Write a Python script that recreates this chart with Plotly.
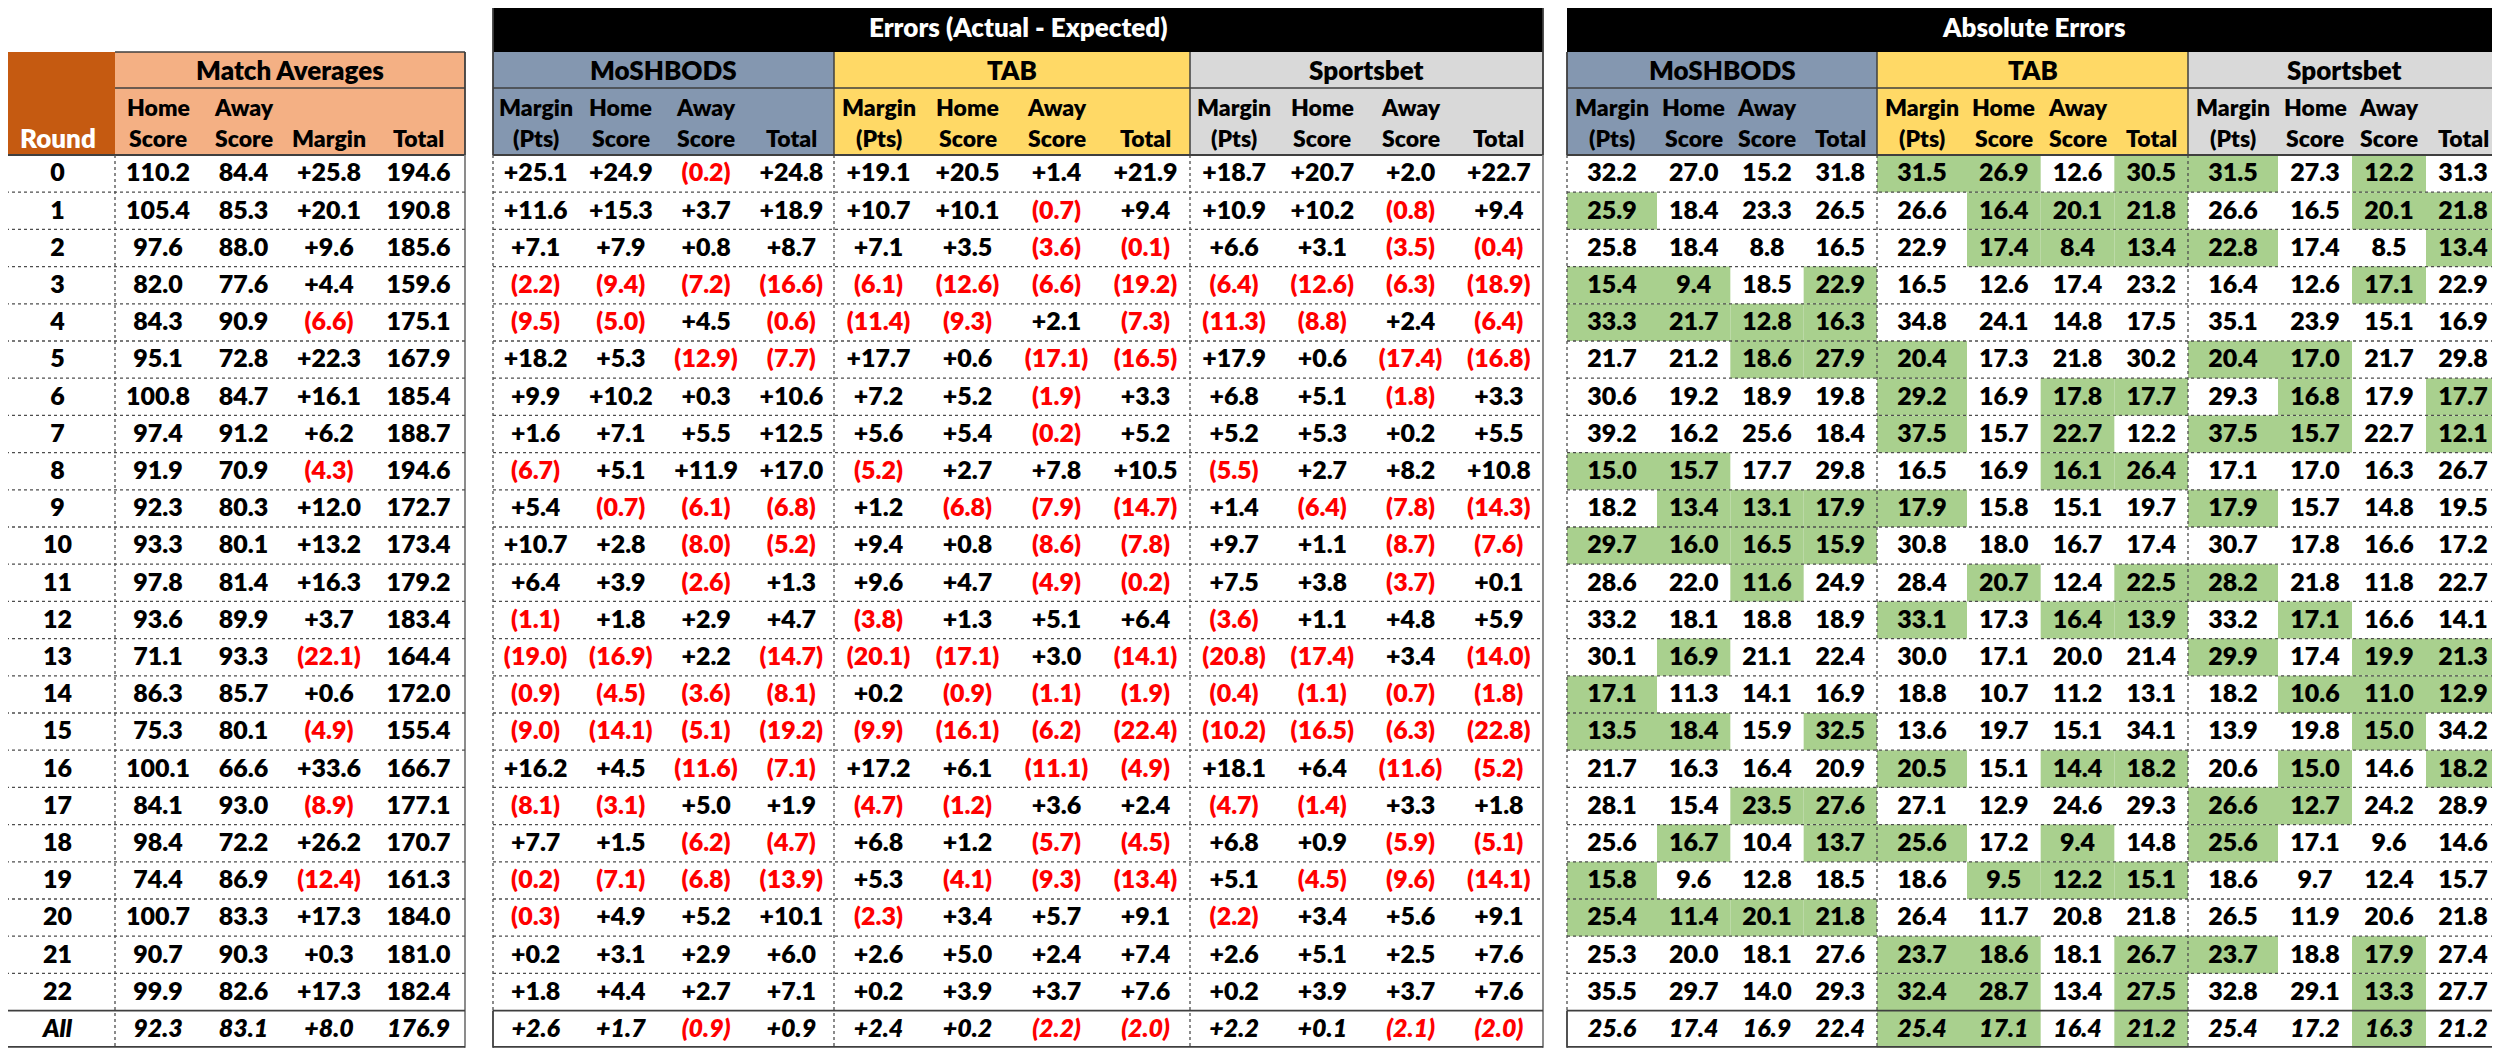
import plotly.graph_objects as go

# ---------------- data ----------------
rounds = [str(i) for i in range(23)] + ["All"]

home_avg = [110.2, 105.4, 97.6, 82.0, 84.3, 95.1, 100.8, 97.4, 91.9, 92.3, 93.3, 97.8, 93.6, 71.1, 86.3, 75.3,
            100.1, 84.1, 98.4, 74.4, 100.7, 90.7, 99.9, 92.3]
away_avg = [84.4, 85.3, 88.0, 77.6, 90.9, 72.8, 84.7, 91.2, 70.9, 80.3, 80.1, 81.4, 89.9, 93.3, 85.7, 80.1,
            66.6, 93.0, 72.2, 86.9, 83.3, 90.3, 82.6, 83.1]
margin_avg = [25.8, 20.1, 9.6, 4.4, -6.6, 22.3, 16.1, 6.2, -4.3, 12.0, 13.2, 16.3, 3.7, -22.1, 0.6, -4.9,
              33.6, -8.9, 26.2, -12.4, 17.3, 0.3, 17.3, 8.0]
total_avg = [194.6, 190.8, 185.6, 159.6, 175.1, 167.9, 185.4, 188.7, 194.6, 172.7, 173.4, 179.2, 183.4, 164.4,
             172.0, 155.4, 166.7, 177.1, 170.7, 161.3, 184.0, 181.0, 182.4, 176.9]

# errors (actual - expected)
mosh_err_margin = [25.1, 11.6, 7.1, -2.2, -9.5, 18.2, 9.9, 1.6, -6.7, 5.4, 10.7, 6.4, -1.1, -19.0, -0.9, -9.0,
                   16.2, -8.1, 7.7, -0.2, -0.3, 0.2, 1.8, 2.6]
mosh_err_home = [24.9, 15.3, 7.9, -9.4, -5.0, 5.3, 10.2, 7.1, 5.1, -0.7, 2.8, 3.9, 1.8, -16.9, -4.5, -14.1,
                 4.5, -3.1, 1.5, -7.1, 4.9, 3.1, 4.4, 1.7]
mosh_err_away = [-0.2, 3.7, 0.8, -7.2, 4.5, -12.9, 0.3, 5.5, 11.9, -6.1, -8.0, -2.6, 2.9, 2.2, -3.6, -5.1,
                 -11.6, 5.0, -6.2, -6.8, 5.2, 2.9, 2.7, -0.9]
mosh_err_total = [24.8, 18.9, 8.7, -16.6, -0.6, -7.7, 10.6, 12.5, 17.0, -6.8, -5.2, 1.3, 4.7, -14.7, -8.1, -19.2,
                  -7.1, 1.9, -4.7, -13.9, 10.1, 6.0, 7.1, 0.9]

tab_err_margin = [19.1, 10.7, 7.1, -6.1, -11.4, 17.7, 7.2, 5.6, -5.2, 1.2, 9.4, 9.6, -3.8, -20.1, 0.2, -9.9,
                  17.2, -4.7, 6.8, 5.3, -2.3, 2.6, 0.2, 2.4]
tab_err_home = [20.5, 10.1, 3.5, -12.6, -9.3, 0.6, 5.2, 5.4, 2.7, -6.8, 0.8, 4.7, 1.3, -17.1, -0.9, -16.1,
                6.1, -1.2, 1.2, -4.1, 3.4, 5.0, 3.9, 0.2]
tab_err_away = [1.4, -0.7, -3.6, -6.6, 2.1, -17.1, -1.9, -0.2, 7.8, -7.9, -8.6, -4.9, 5.1, 3.0, -1.1, -6.2,
                -11.1, 3.6, -5.7, -9.3, 5.7, 2.4, 3.7, -2.2]
tab_err_total = [21.9, 9.4, -0.1, -19.2, -7.3, -16.5, 3.3, 5.2, 10.5, -14.7, -7.8, -0.2, 6.4, -14.1, -1.9, -22.4,
                 -4.9, 2.4, -4.5, -13.4, 9.1, 7.4, 7.6, -2.0]

sb_err_margin = [18.7, 10.9, 6.6, -6.4, -11.3, 17.9, 6.8, 5.2, -5.5, 1.4, 9.7, 7.5, -3.6, -20.8, -0.4, -10.2,
                 18.1, -4.7, 6.8, 5.1, -2.2, 2.6, 0.2, 2.2]
sb_err_home = [20.7, 10.2, 3.1, -12.6, -8.8, 0.6, 5.1, 5.3, 2.7, -6.4, 1.1, 3.8, 1.1, -17.4, -1.1, -16.5,
               6.4, -1.4, 0.9, -4.5, 3.4, 5.1, 3.9, 0.1]
sb_err_away = [2.0, -0.8, -3.5, -6.3, 2.4, -17.4, -1.8, 0.2, 8.2, -7.8, -8.7, -3.7, 4.8, 3.4, -0.7, -6.3,
               -11.6, 3.3, -5.9, -9.6, 5.6, 2.5, 3.7, -2.1]
sb_err_total = [22.7, 9.4, -0.4, -18.9, -6.4, -16.8, 3.3, 5.5, 10.8, -14.3, -7.6, 0.1, 5.9, -14.0, -1.8, -22.8,
                -5.2, 1.8, -5.1, -14.1, 9.1, 7.6, 7.6, -2.0]

# absolute errors
mosh_abs_margin = [32.2, 25.9, 25.8, 15.4, 33.3, 21.7, 30.6, 39.2, 15.0, 18.2, 29.7, 28.6, 33.2, 30.1, 17.1, 13.5,
                   21.7, 28.1, 25.6, 15.8, 25.4, 25.3, 35.5, 25.6]
mosh_abs_home = [27.0, 18.4, 18.4, 9.4, 21.7, 21.2, 19.2, 16.2, 15.7, 13.4, 16.0, 22.0, 18.1, 16.9, 11.3, 18.4,
                 16.3, 15.4, 16.7, 9.6, 11.4, 20.0, 29.7, 17.4]
mosh_abs_away = [15.2, 23.3, 8.8, 18.5, 12.8, 18.6, 18.9, 25.6, 17.7, 13.1, 16.5, 11.6, 18.8, 21.1, 14.1, 15.9,
                 16.4, 23.5, 10.4, 12.8, 20.1, 18.1, 14.0, 16.9]
mosh_abs_total = [31.8, 26.5, 16.5, 22.9, 16.3, 27.9, 19.8, 18.4, 29.8, 17.9, 15.9, 24.9, 18.9, 22.4, 16.9, 32.5,
                  20.9, 27.6, 13.7, 18.5, 21.8, 27.6, 29.3, 22.4]

tab_abs_margin = [31.5, 26.6, 22.9, 16.5, 34.8, 20.4, 29.2, 37.5, 16.5, 17.9, 30.8, 28.4, 33.1, 30.0, 18.8, 13.6,
                  20.5, 27.1, 25.6, 18.6, 26.4, 23.7, 32.4, 25.4]
tab_abs_home = [26.9, 16.4, 17.4, 12.6, 24.1, 17.3, 16.9, 15.7, 16.9, 15.8, 18.0, 20.7, 17.3, 17.1, 10.7, 19.7,
                15.1, 12.9, 17.2, 9.5, 11.7, 18.6, 28.7, 17.1]
tab_abs_away = [12.6, 20.1, 8.4, 17.4, 14.8, 21.8, 17.8, 22.7, 16.1, 15.1, 16.7, 12.4, 16.4, 20.0, 11.2, 15.1,
                14.4, 24.6, 9.4, 12.2, 20.8, 18.1, 13.4, 16.4]
tab_abs_total = [30.5, 21.8, 13.4, 23.2, 17.5, 30.2, 17.7, 12.2, 26.4, 19.7, 17.4, 22.5, 13.9, 21.4, 13.1, 34.1,
                 18.2, 29.3, 14.8, 15.1, 21.8, 26.7, 27.5, 21.2]

sb_abs_margin = [31.5, 26.6, 22.8, 16.4, 35.1, 20.4, 29.3, 37.5, 17.1, 17.9, 30.7, 28.2, 33.2, 29.9, 18.2, 13.9,
                 20.6, 26.6, 25.6, 18.6, 26.5, 23.7, 32.8, 25.4]
sb_abs_home = [27.3, 16.5, 17.4, 12.6, 23.9, 17.0, 16.8, 15.7, 17.0, 15.7, 17.8, 21.8, 17.1, 17.4, 10.6, 19.8,
               15.0, 12.7, 17.1, 9.7, 11.9, 18.8, 29.1, 17.2]
sb_abs_away = [12.2, 20.1, 8.5, 17.1, 15.1, 21.7, 17.9, 22.7, 16.3, 14.8, 16.6, 11.8, 16.6, 19.9, 11.0, 15.0,
               14.6, 24.2, 9.6, 12.4, 20.6, 17.9, 13.3, 16.3]
sb_abs_total = [31.3, 21.8, 13.4, 22.9, 16.9, 29.8, 17.7, 12.1, 26.7, 19.5, 17.2, 22.7, 14.1, 21.3, 12.9, 34.2,
                18.2, 28.9, 14.6, 15.7, 21.8, 27.4, 27.7, 21.2]

# forecaster(s) with the lowest absolute error (M = MoSHBODS, T = TAB, S = Sportsbet)
best_margin = ["TS", "M", "S", "M", "M", "TS", "T", "TS", "M", "TS", "M", "S", "T", "S", "M", "M",
               "T", "S", "TS", "M", "M", "TS", "T", "T"]
best_home = ["T", "T", "T", "M", "M", "S", "S", "S", "M", "M", "M", "T", "S", "M", "S", "M",
             "S", "S", "M", "T", "M", "T", "T", "T"]
best_away = ["S", "TS", "T", "S", "M", "M", "T", "T", "T", "M", "M", "M", "T", "S", "S", "S",
             "T", "M", "T", "T", "M", "S", "S", "S"]
best_total = ["T", "TS", "TS", "M", "M", "M", "TS", "S", "T", "M", "M", "T", "T", "S", "S", "M",
              "TS", "M", "M", "T", "M", "T", "T", "T"]

forecasters = ["MoSHBODS", "TAB", "Sportsbet"]
codes = ["M", "T", "S"]
errors = {
    "M": [mosh_err_margin, mosh_err_home, mosh_err_away, mosh_err_total],
    "T": [tab_err_margin, tab_err_home, tab_err_away, tab_err_total],
    "S": [sb_err_margin, sb_err_home, sb_err_away, sb_err_total],
}
abs_errors = {
    "M": [mosh_abs_margin, mosh_abs_home, mosh_abs_away, mosh_abs_total],
    "T": [tab_abs_margin, tab_abs_home, tab_abs_away, tab_abs_total],
    "S": [sb_abs_margin, sb_abs_home, sb_abs_away, sb_abs_total],
}
best = [best_margin, best_home, best_away, best_total]

# ---------------- styling ----------------
FONT = "Lato"
WEIGHT = 800
RED = "#FF0000"
LINE = "#3f3f3f"
EDGE = "#7f7f7f"
DOT = "#4d4d4d"
group_colors = {"M": "#8497B0", "T": "#FFD966", "S": "#D9D9D9"}
GREEN = "#A9D08E"

OFF = 8  # the page body has an 8px margin, so the canvas starts 8px in
ROW_TOP = 155
ROW_H = 37.2
n = len(rounds)
Y_END = ROW_TOP + ROW_H * n


def ry(i):
    return ROW_TOP + ROW_H * i


def rmid(i):
    return ROW_TOP + ROW_H * (i + 0.5) + 1.5


shapes = []
annotations = []


def rect(x0, x1, y0, y1, color):
    shapes.append(dict(type="rect", xref="x", yref="y", x0=x0, x1=x1, y0=y0, y1=y1,
                       fillcolor=color, line=dict(width=0), layer="below"))


def line(x0, y0, x1, y1, color=LINE, width=1.5, dash="solid"):
    shapes.append(dict(type="line", xref="x", yref="y", x0=x0, y0=y0, x1=x1, y1=y1,
                       line=dict(color=color, width=width, dash=dash), layer="above"))


def label(x, y, text, size=23, color="black"):
    annotations.append(dict(x=x, y=y, xref="x", yref="y", text=text, showarrow=False,
                            font=dict(family=FONT, size=size, color=color, weight=WEIGHT),
                            xanchor="center", yanchor="middle"))


def fmt_signed(v):
    return (f"+{v:.1f}", "black") if v >= 0 else (f"({abs(v):.1f})", RED)


cell_x, cell_y, cell_t, cell_c = [], [], [], []
all_x, all_y, all_t, all_c = [], [], [], []


def add_column(xc, texts, colors):
    for i, (t, c) in enumerate(zip(texts, colors)):
        if rounds[i] == "All":
            all_x.append(xc); all_y.append(rmid(i)); all_t.append(t); all_c.append(c)
        else:
            cell_x.append(xc); cell_y.append(rmid(i)); cell_t.append(t); cell_c.append(c)


def grid_rows(x0, x1):
    for i in range(1, n - 1):
        line(x0, ry(i), x1, ry(i), DOT, 1.3, "dot")
    line(x0, ry(n - 1), x1, ry(n - 1), LINE, 1.8)
    line(x0, Y_END - 1, x1, Y_END - 1, LINE, 1.8)


def section_left_edge(x, top):
    # solid through the header, dotted down the rows, solid again round the "All" row
    line(x, top, x, 155, LINE, 1.8)
    line(x, 155, x, ry(n - 1), DOT, 1.3, "dot")
    line(x, ry(n - 1), x, Y_END, LINE, 1.8)


sub_top = ["Margin", "Home", "Away", ""]
sub_bot = ["(Pts)", "Score", "Score", "Total"]

# ---------------- left table: match averages ----------------
left_edges = [0, 115, 201, 286, 372, 465]
rect(0, 115, 52, 155, "#C55A11")
rect(115, 465, 52, 155, "#F4B084")
label(57.5, 138, "Round", 26, "white")
label(290, 70, "Match Averages", 26)
left_top = ["Home", "Away", "", ""]
left_bot = ["Score", "Score", "Margin", "Total"]
for k in range(4):
    xc = (left_edges[k + 1] + left_edges[k + 2]) / 2
    if left_top[k]:
        label(xc, 107, left_top[k])
    label(xc, 138, left_bot[k])
line(115, 52, 465, 52)
line(115, 88, 465, 88)
line(0, 155, 465, 155, LINE, 1.8)
line(465, 52, 465, 155, LINE, 1.8)
line(465, 155, 465, Y_END, EDGE, 1.8)
line(115, 155, 115, Y_END, DOT, 1.3, "dot")
grid_rows(0, 465)

add_column(57.5, rounds, ["black"] * n)
add_column((left_edges[1] + left_edges[2]) / 2, [f"{v:.1f}" for v in home_avg], ["black"] * n)
add_column((left_edges[2] + left_edges[3]) / 2, [f"{v:.1f}" for v in away_avg], ["black"] * n)
m_fmt = [fmt_signed(v) for v in margin_avg]
add_column((left_edges[3] + left_edges[4]) / 2, [t for t, _ in m_fmt], [c for _, c in m_fmt])
add_column((left_edges[4] + left_edges[5]) / 2, [f"{v:.1f}" for v in total_avg], ["black"] * n)

# ---------------- middle table: errors ----------------
mid_groups = [(493, 834), (834, 1190), (1190, 1543)]
rect(493, 1543, 0, 52, "black")
label(1018, 27, "Errors (Actual - Expected)", 26, "white")
for g, (x0, x1) in enumerate(mid_groups):
    code = codes[g]
    rect(x0, x1, 52, 155, group_colors[code])
    label((x0 + x1) / 2, 70, forecasters[g], 26)
    w = (x1 - x0) / 4
    for k in range(4):
        xc = x0 + w * (k + 0.5)
        if sub_top[k]:
            label(xc, 107, sub_top[k])
        label(xc, 138, sub_bot[k])
        f = [fmt_signed(v) for v in errors[code][k]]
        add_column(xc, [t for t, _ in f], [c for _, c in f])
    if g > 0:
        line(x0, 52, x0, 155)
        line(x0, 155, x0, Y_END, DOT, 1.3, "dot")
line(493, 88, 1543, 88)
line(493, 155, 1543, 155, LINE, 1.8)
section_left_edge(493, 0)
line(1543, 0, 1543, 155, LINE, 1.8)
line(1543, 155, 1543, Y_END, EDGE, 1.8)
grid_rows(493, 1543)

# ---------------- right table: absolute errors ----------------
right_groups = [(1567, 1877), (1877, 2188), (2188, 2500)]
rect(1567, 2500, 0, 52, "black")
label(2033, 27, "Absolute Errors", 26, "white")
for g, (x0, x1) in enumerate(right_groups):
    code = codes[g]
    rect(x0, x1, 52, 155, group_colors[code])
    label((x0 + x1) / 2, 70, forecasters[g], 26)
    w0 = 90
    w = (x1 - x0 - w0) / 3
    edges = [x0, x0 + w0, x0 + w0 + w, x0 + w0 + 2 * w, x1]
    for k in range(4):
        xc = (edges[k] + edges[k + 1]) / 2
        if sub_top[k]:
            label(xc, 107, sub_top[k])
        label(xc, 138, sub_bot[k])
        for i in range(n):
            if code in best[k][i]:
                rect(edges[k], edges[k + 1], ry(i), ry(i + 1), GREEN)
        add_column(xc, [f"{v:.1f}" for v in abs_errors[code][k]], ["black"] * n)
    if g > 0:
        line(x0, 52, x0, 155)
        line(x0, 155, x0, Y_END, DOT, 1.3, "dot")
section_left_edge(1567, 52)
line(1567, 88, 2500, 88)
line(1567, 155, 2500, 155, LINE, 1.8)
grid_rows(1567, 2500)

# ---------------- figure ----------------
fig = go.Figure()
fig.add_trace(go.Scatter(x=cell_x, y=cell_y, text=cell_t, mode="text", hoverinfo="skip",
                         textfont=dict(family=FONT, size=25, color=cell_c, weight=WEIGHT),
                         textposition="middle center", cliponaxis=False, showlegend=False))
fig.add_trace(go.Scatter(x=all_x, y=all_y, text=all_t, mode="text", hoverinfo="skip",
                         textfont=dict(family=FONT, size=25, color=all_c, weight=WEIGHT, style="italic"),
                         textposition="middle center", cliponaxis=False, showlegend=False))

fig.update_layout(
    width=2500 - OFF,
    height=1048 - OFF,
    margin=dict(l=0, r=0, t=0, b=0),
    paper_bgcolor="white",
    plot_bgcolor="white",
    xaxis=dict(range=[OFF, 2500], visible=False, fixedrange=True),
    yaxis=dict(range=[1048, OFF], visible=False, fixedrange=True),
    shapes=shapes,
    annotations=annotations,
    showlegend=False,
)

fig.write_html("out.html")
